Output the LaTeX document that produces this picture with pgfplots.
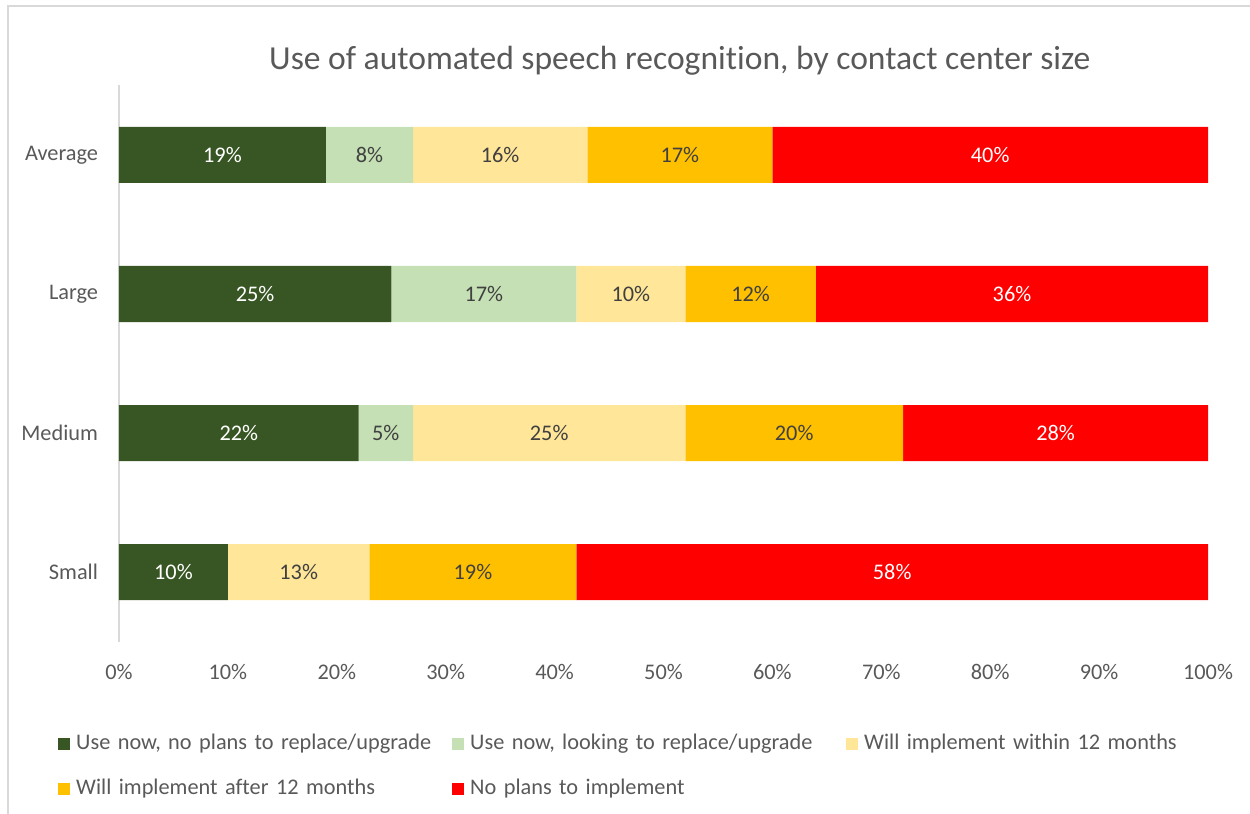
\documentclass[border=0pt]{standalone}
\usepackage{pgfplots}
\pgfplotsset{compat=1.18}
\usepackage{fontspec}
\setmainfont{Carlito}[Ligatures=NoCommon]
\definecolor{dkgreen}{HTML}{375623}
\definecolor{ltgreen}{HTML}{C5E0B4}
\definecolor{ltyellow}{HTML}{FFE699}
\definecolor{myorange}{HTML}{FFC000}
\definecolor{myred}{HTML}{FF0000}
\definecolor{txtgray}{HTML}{595959}
\definecolor{lblgray}{HTML}{404040}
\definecolor{bordergray}{HTML}{D9D9D9}
\begin{document}
\begin{tikzpicture}
\useasboundingbox (-119bp,-172.5bp) rectangle (1131bp,641.5bp);
\draw[bordergray, line width=2bp] (-111bp,-180bp) -- (-111bp,635bp) -- (1140bp,635bp);
\begin{axis}[
  at={(0,0)}, anchor=south west,
  scale only axis, width=1089bp, height=556bp,
  xbar stacked, bar width=56bp,
  xmin=0, xmax=100, ymin=-0.5, ymax=3.5,
  ytick={0,1,2,3}, yticklabels={Small,Medium,Large,Average},
  xtick={0,10,...,100},
  xticklabel={\pgfmathprintnumber{\tick}\%},
  /pgf/number format/assume math mode=true,
  major tick length=0pt,
  axis lines*=left,
  x axis line style={draw=none},
  y axis line style={draw=bordergray, line width=1.2bp},
  ticklabel style={font=\fontsize{22.4}{26}\selectfont, text=txtgray},
  xticklabel style={yshift=-19bp},
  yticklabel style={xshift=-17.5bp},
  title={Use of automated speech recognition, by contact center size},
  title style={font=\fontsize{33.7}{38}\selectfont, text=txtgray, at={(axis description cs:0.515,1)}, anchor=center, yshift=19bp},
  legend columns=3,
  legend cell align=left,
  legend style={draw=none, fill=none, inner sep=0pt, at={(axis description cs:-0.056,-0.161)}, anchor=north west,
    font=\fontsize{22.4}{26}\selectfont, text=txtgray, row sep=19bp,
    nodes={inner sep=2.5bp, text height=16bp, text depth=5bp, text width=373.5bp, align=left},
    /tikz/every odd column/.append style={column sep=3.5bp}},
  legend image code/.code={\fill[#1] (0bp,-6bp) rectangle (12bp,6bp);},
]
\addplot[fill=dkgreen, draw=none] coordinates {(10,0) (22,1) (25,2) (19,3)};
\addlegendentry{Use now, no plans to replace/upgrade}
\addplot[fill=ltgreen, draw=none] coordinates {(0,0) (5,1) (17,2) (8,3)};
\addlegendentry{Use now, looking to replace/upgrade}
\addplot[fill=ltyellow, draw=none] coordinates {(13,0) (25,1) (10,2) (16,3)};
\addlegendentry{Will implement within 12 months}
\addplot[fill=myorange, draw=none] coordinates {(19,0) (20,1) (12,2) (17,3)};
\addlegendentry{Will implement after 12 months}
\addplot[fill=myred, draw=none] coordinates {(58,0) (28,1) (36,2) (40,3)};
\addlegendentry{No plans to implement}
\end{axis}
\begin{axis}[
  at={(0,0)}, anchor=south west,
  scale only axis, width=1089bp, height=556bp,
  xmin=0, xmax=100, ymin=-0.5, ymax=3.5,
  hide axis,
  nodes near coords align=center,
  every node near coord/.append style={font=\fontsize{22.4}{26}\selectfont, anchor=center},
]
\addplot[draw=none, mark=none, nodes near coords, point meta=explicit symbolic,
  every node near coord/.append style={text=white}]
  table[meta=lab] {
x y lab
5 0 10\%
71 0 58\%
11 1 22\%
86 1 28\%
12.5 2 25\%
82 2 36\%
9.5 3 19\%
80 3 40\%
};
\addplot[draw=none, mark=none, nodes near coords, point meta=explicit symbolic,
  every node near coord/.append style={text=lblgray}]
  table[meta=lab] {
x y lab
16.5 0 13\%
32.5 0 19\%
24.5 1 5\%
39.5 1 25\%
62 1 20\%
33.5 2 17\%
47 2 10\%
58 2 12\%
23 3 8\%
35 3 16\%
51.5 3 17\%
};
\end{axis}
\end{tikzpicture}
\end{document}
